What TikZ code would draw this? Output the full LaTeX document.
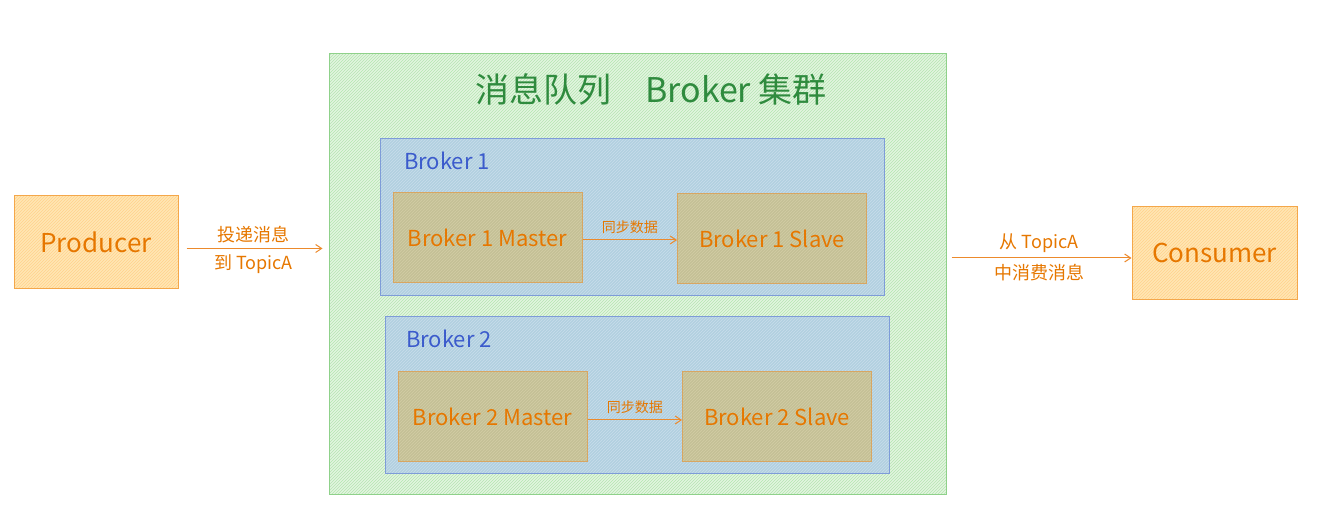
\documentclass[tikz,border=0pt]{standalone}
\usepackage{fontspec}
\setmainfont{Noto Sans CJK SC}
\usetikzlibrary{arrows.meta,patterns}
\definecolor{txtorange}{HTML}{E67700}
\definecolor{arrorange}{HTML}{EC8A2C}
\definecolor{titlegreen}{HTML}{2F8B3E}
\definecolor{labelblue}{HTML}{3B5BCC}
\definecolor{clusterline}{HTML}{8FD18A}
\definecolor{clusterfill}{HTML}{E2F5DF}
\definecolor{clusterhatch}{HTML}{B5E5B1}
\definecolor{brokerline}{HTML}{7E9CD8}
\definecolor{brokerfill}{HTML}{B2D0E0}
\definecolor{brokerhatch}{HTML}{C9DDEC}
\definecolor{roleline}{HTML}{D8A662}
\definecolor{rolefill}{HTML}{C4C096}
\definecolor{rolehatch}{HTML}{D3CDA5}
\definecolor{endline}{HTML}{F4A74A}
\definecolor{endfill}{HTML}{FFE6B4}
\definecolor{endhatch}{HTML}{FFD28C}
\begin{document}
\begin{tikzpicture}[x=1pt,y=1pt,
		cluster/.style={draw=clusterline, line width=1pt, preaction={fill=clusterfill}, pattern=north east lines, pattern color=clusterhatch},
		brokerbox/.style={draw=brokerline, line width=1pt, minimum width=504pt, minimum height=157pt, preaction={fill=brokerfill}, pattern=north east lines, pattern color=brokerhatch},
		rolebox/.style={draw=roleline, line width=1pt, minimum width=189pt, minimum height=90pt, preaction={fill=rolefill}, pattern=north east lines, pattern color=rolehatch, text=txtorange, font=\fontsize{22}{26}\selectfont},
		endbox/.style={draw=endline, line width=1pt, minimum height=93pt, preaction={fill=endfill}, pattern=north east lines, pattern color=endhatch, text=txtorange, font=\fontsize{26}{30}\selectfont},
		flow/.style={draw=arrorange, line width=1pt, -{Straight Barb[length=6pt,width=8pt]}},
		flowtext/.style={text=txtorange, font=\fontsize{18}{22}\selectfont},
		synctext/.style={text=txtorange, font=\fontsize{14}{17}\selectfont},
		brokerlabel/.style={text=labelblue, font=\fontsize{22}{26}\selectfont, anchor=west}]
	\useasboundingbox (0,0) rectangle (1323,517);
	\node[cluster, minimum width=617pt, minimum height=440pt] (cluster) at (637.5,243) {};
	\node[text=titlegreen, font=\fontsize{34}{40}\selectfont] (title) at (651,428) {消息队列\quad Broker 集群};
	\node[brokerbox] (broker1) at (632,299.5) {};
	\node[brokerlabel] (b1label) at ([xshift=21pt,yshift=-22pt]broker1.north west) {Broker 1};
	\node[rolebox] (b1master) at (487.5,279) {Broker 1 Master};
	\node[rolebox] (b1slave) at (772,278) {Broker 1 Slave};
	\node[brokerbox] (broker2) at (637,121.5) {};
	\node[brokerlabel] (b2label) at ([xshift=18pt,yshift=-22pt]broker2.north west) {Broker 2};
	\node[rolebox] (b2master) at (492.5,100) {Broker 2 Master};
	\node[rolebox] (b2slave) at (777,100) {Broker 2 Slave};
	\node[endbox, minimum width=164pt] (producer) at (96,274.5) {Producer};
	\node[endbox, minimum width=165pt] (consumer) at (1214.5,264) {Consumer};
	\draw[flow] ([yshift=-2pt]b1master.east) -- ([yshift=-2pt]b1master.east -| b1slave.west)
		node[midway, above=3pt, synctext] {同步数据};
	\draw[flow] ([yshift=-3pt]b2master.east) -- ([yshift=-3pt]b2master.east -| b2slave.west)
		node[midway, above=3pt, synctext] {同步数据};
	\draw[flow, shorten <=8pt, shorten >=6pt] ([yshift=-6pt]producer.east) -- ([yshift=-6pt]producer.east -| cluster.west)
		node[midway, above=2pt, flowtext] {投递消息}
		node[midway, below=2pt, flowtext] {到 TopicA};
	\draw[flow, shorten <=5pt] ([yshift=-5pt]consumer.west -| cluster.east) -- ([yshift=-5pt]consumer.west)
		node[midway, above=2pt, flowtext] {从 TopicA}
		node[midway, below=2pt, flowtext] {中消费消息};
\end{tikzpicture}
\end{document}
